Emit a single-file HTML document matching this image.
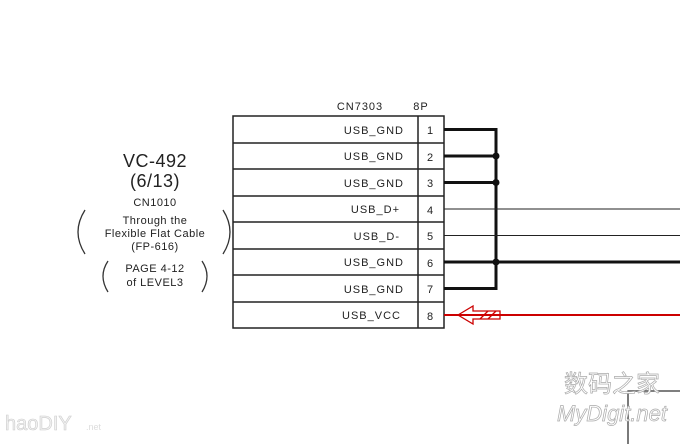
<!DOCTYPE html>
<html><head><meta charset="utf-8"><style>
html,body{margin:0;padding:0;background:#fff;}
svg{display:block}
text{font-family:"Liberation Sans","Noto Sans CJK SC",sans-serif;fill:#222}
</style></head><body>
<svg width="680" height="444" viewBox="0 0 680 444" xmlns="http://www.w3.org/2000/svg">
<rect width="680" height="444" fill="#fff"/>
<text x="360" y="110" font-size="11" text-anchor="middle" letter-spacing="1">CN7303</text>
<text x="421" y="110" font-size="11" text-anchor="middle" letter-spacing="1">8P</text>
<g stroke="#222" stroke-width="1.5" fill="none">
<rect x="233" y="116" width="211" height="212"/>
<line x1="418" y1="116" x2="418" y2="328"/>
<line x1="233" y1="143" x2="444" y2="143"/>
<line x1="233" y1="169" x2="444" y2="169"/>
<line x1="233" y1="196" x2="444" y2="196"/>
<line x1="233" y1="222" x2="444" y2="222"/>
<line x1="233" y1="249" x2="444" y2="249"/>
<line x1="233" y1="275" x2="444" y2="275"/>
<line x1="233" y1="302" x2="444" y2="302"/>
</g>
<g font-size="11" text-anchor="end" letter-spacing="1">
<text x="404" y="134">USB_GND</text>
<text x="404" y="160">USB_GND</text>
<text x="404" y="187">USB_GND</text>
<text x="400" y="213">USB_D+</text>
<text x="400" y="240">USB_D-</text>
<text x="404" y="266">USB_GND</text>
<text x="404" y="293">USB_GND</text>
<text x="401" y="319">USB_VCC</text>
</g>
<g font-size="11" text-anchor="middle">
<text x="430" y="134">1</text><text x="430" y="161">2</text><text x="430" y="187">3</text><text x="430" y="214">4</text>
<text x="430" y="240">5</text><text x="430" y="267">6</text><text x="430" y="293">7</text><text x="430" y="320">8</text>
</g>
<g stroke="#111" stroke-width="3" fill="none">
<polyline points="444,129.5 496,129.5 496,288.5 444,288.5"/>
<line x1="444" y1="156" x2="496" y2="156"/>
<line x1="444" y1="182.5" x2="496" y2="182.5"/>
<line x1="444" y1="262" x2="680" y2="262"/>
</g>
<g fill="#111"><circle cx="496" cy="156" r="3.5"/><circle cx="496" cy="182.5" r="3.5"/><circle cx="496" cy="262" r="3.5"/></g>
<g stroke="#222" stroke-width="1">
<line x1="444" y1="209" x2="680" y2="209"/>
<line x1="444" y1="235.5" x2="680" y2="235.5"/>
</g>
<line x1="444" y1="315" x2="680" y2="315" stroke="#c00" stroke-width="2"/>
<g stroke="#c00" stroke-width="1.3" fill="none">
<polygon points="458,315 473,306 473,311 500,311 500,319 473,319 473,324"/>
<line x1="480" y1="319" x2="488" y2="311"/><line x1="488" y1="319" x2="496" y2="311"/>
</g>
<g stroke="#333" stroke-width="1.3" fill="none">
<polyline points="628,444 628,391 680,391"/>
</g>
<g text-anchor="middle" letter-spacing="0.5">
<text x="155" y="167" font-size="18">VC-492</text>
<text x="155" y="187" font-size="18">(6/13)</text>
<text x="155" y="206" font-size="11">CN1010</text>
<text x="155" y="224" font-size="11">Through the</text>
<text x="155" y="237" font-size="11">Flexible Flat Cable</text>
<text x="155" y="250" font-size="11">(FP-616)</text>
<text x="155" y="272" font-size="11">PAGE 4-12</text>
<text x="155" y="286" font-size="11">of LEVEL3</text>
</g>
<g stroke="#333" stroke-width="1.3" fill="none">
<path d="M85,210 Q71,232 85,254"/>
<path d="M223,210 Q237,232 223,254"/>
<path d="M108,261 Q98,276 108,292"/>
<path d="M202,261 Q212,276 202,292"/>
</g>
<g font-size="24" text-anchor="middle" style="fill:#fff;stroke:#aaa;stroke-width:0.7">
<text x="612" y="392" style="font-family:'Noto Sans CJK SC',sans-serif;fill:#fff">数码之家</text>
<text x="612" y="421" font-style="italic" font-size="22" style="font-family:'Liberation Sans',sans-serif;fill:#fff">MyDigit.net</text>
</g>
<text x="5" y="430" font-size="20" style="fill:#f2f2f2;stroke:#ccc;stroke-width:0.6">haoDIY</text>
<text x="86" y="430" font-size="9" style="fill:#ddd">.net</text>
</svg>
</body></html>
